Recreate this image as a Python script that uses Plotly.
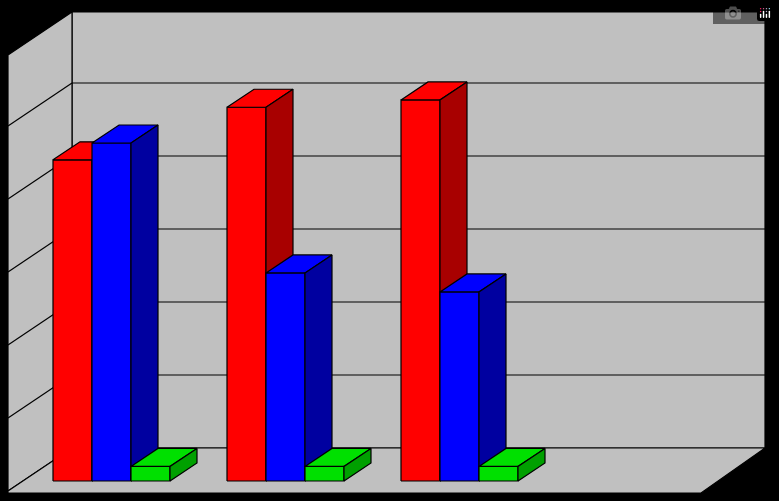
import plotly.graph_objects as go

categories = ["Group 1", "Group 2", "Group 3"]
red_values = [4.40, 5.12, 5.22]
blue_values = [4.63, 2.85, 2.59]
green_values = [0.20, 0.20, 0.20]
gridlines = [1, 2, 3, 4, 5]

PX = 73.0  # pixels per unit
y_of = lambda p: (481 - p) / PX

series = [
    (red_values, "#ff0000", "#a80000"),
    (blue_values, "#0000ff", "#0000a0"),
    (green_values, "#00e000", "#00a000"),
]
bar_w = 39
group_step = 174
first_x = 53
dx = 27
dy = 18 / PX

fig = go.Figure()

def face(xs, ys, color):
    fig.add_trace(go.Scatter(x=xs + [xs[0]], y=ys + [ys[0]], mode="lines", fill="toself",
                             fillcolor=color, line=dict(color="black", width=1.2),
                             hoverinfo="skip", showlegend=False))

for i, _ in enumerate(categories):
    for k, (vals, col, side) in enumerate(series):
        x0 = first_x + i * group_step + k * bar_w
        x1 = x0 + bar_w
        v = vals[i]
        face([x0, x1, x1, x0], [0, 0, v, v], col)
        face([x0, x1, x1 + dx, x0 + dx], [v, v, v + dy, v + dy], col)
        face([x1, x1 + dx, x1 + dx, x1], [0, dy, v + dy, v], side)

# walls and floor
shapes = []
gray = "#c0c0c0"
line = dict(color="black", width=1.2)
back_bottom, back_top = y_of(448), y_of(12)
shapes.append(dict(type="rect", x0=72, x1=765, y0=back_bottom, y1=back_top,
                   fillcolor=gray, line=line, layer="below"))
shapes.append(dict(type="path", path=f"M 8 {y_of(55)} L 72 {back_top} L 72 {back_bottom} L 8 {y_of(491)} Z",
                   fillcolor=gray, line=line, layer="below"))
shapes.append(dict(type="path", path=f"M 8 {y_of(491)} L 72 {back_bottom} L 765 {back_bottom} L 701 {y_of(493)} L 8 {y_of(493)} Z",
                   fillcolor=gray, line=line, layer="below"))
for g in gridlines:
    yb = back_bottom + g
    shapes.append(dict(type="line", x0=72, x1=765, y0=yb, y1=yb, line=line, layer="below"))
    shapes.append(dict(type="line", x0=8, x1=72, y0=yb - 43 / PX, y1=yb, line=line, layer="below"))

fig.update_layout(
    width=779, height=501, margin=dict(l=0, r=0, t=0, b=0),
    paper_bgcolor="black", plot_bgcolor="black", shapes=shapes,
    xaxis=dict(range=[0, 779], visible=False, fixedrange=True),
    yaxis=dict(range=[y_of(501), y_of(0)], visible=False, fixedrange=True),
)
fig.write_html("out.html",
               post_script="document.body.style.margin='0';document.body.style.background='black';document.body.style.overflow='hidden';")
